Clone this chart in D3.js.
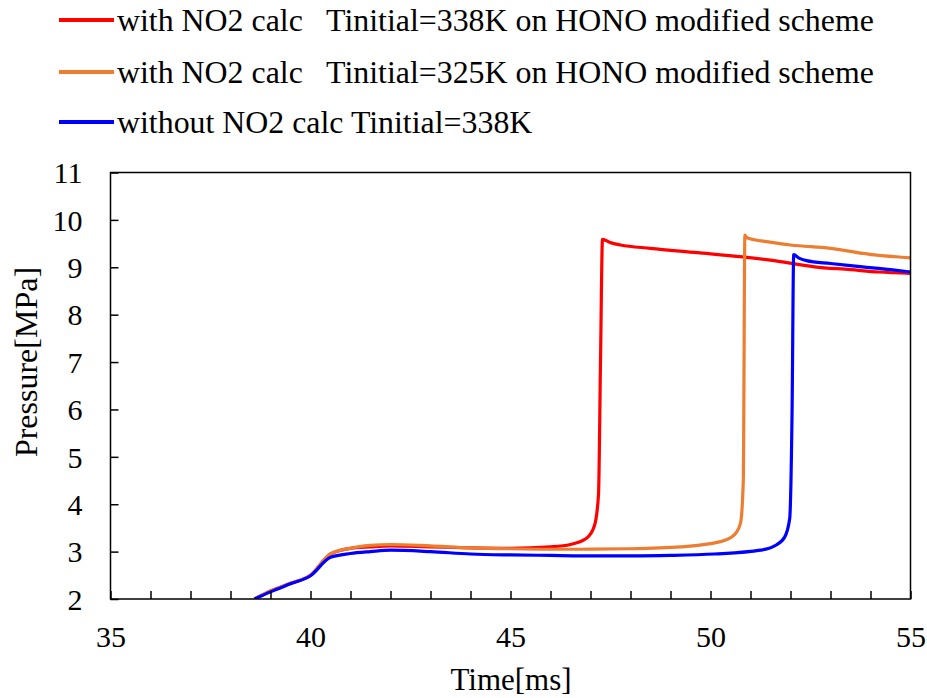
<!DOCTYPE html>
<html><head><meta charset="utf-8">
<script src="https://cdn.jsdelivr.net/npm/d3@7"></script>
<style>body{margin:0;background:#fff}svg{display:block}</style>
</head><body><svg id="c" width="927" height="698"></svg>
<script>
const seriesNames = ["with NO2 calc   Tinitial=338K on HONO modified scheme","with NO2 calc   Tinitial=325K on HONO modified scheme","without NO2 calc Tinitial=338K"];
const seriesColors = ["#ff0000","#ed7d31","#0000ff"];
const redTime = [38.6,39.0,39.5,40.0,40.5,41.0,41.5,42.0,43.0,44.0,45.0,46.0,46.5,46.9,47.1,47.2,47.25,47.3,47.5,47.75,48.5,49.67,50.8,51.5,52.6,53.5,54.2,55];
const redPressure = [2.0,2.17,2.33,2.5,2.95,3.07,3.1,3.12,3.1,3.08,3.07,3.1,3.15,3.28,3.55,4.2,7.0,9.59,9.52,9.47,9.4,9.31,9.22,9.15,9.01,8.95,8.9,8.87];
const orangeTime = [38.6,39,39.5,40,40.5,41,41.5,42,43,44,45,46,46.75,48,49.25,50.25,50.6,50.75,50.82,50.86,50.9,51.1,51.4,52,53,54.1,55];
const orangePressure = [2.0,2.17,2.33,2.5,2.95,3.07,3.13,3.15,3.12,3.08,3.06,3.05,3.05,3.06,3.1,3.21,3.36,3.6,4.5,9.68,9.63,9.58,9.54,9.47,9.40,9.26,9.20];
const blueTime = [38.6,39,39.5,40,40.5,41,41.5,42,43,44,45,46,46.75,48,49,50.1,51.25,51.6,51.85,51.98,52.04,52.08,52.2,52.4,53,53.8,54.5,55];
const bluePressure = [2.0,2.15,2.32,2.49,2.88,2.96,3.0,3.03,3.0,2.95,2.93,2.92,2.91,2.91,2.92,2.95,3.03,3.12,3.3,3.7,6,9.27,9.2,9.14,9.08,9.01,8.95,8.9];
const xTicks = [35,40,45,50,55];
const yTicks = [2,3,4,5,6,7,8,9,10,11];
const xTitle = "Time[ms]", yTitle = "Pressure[MPa]";
const FONT = "Liberation Serif";

const svg = d3.select("#c");
const L=110.5,R=910.5,T=172.5,B=599;
const x = d3.scaleLinear().domain([35,55]).range([L,R]);
const y = d3.scaleLinear().domain([2,11]).range([B,T]);

svg.append("clipPath").attr("id","cp").append("rect").attr("x",L).attr("y",T).attr("width",R-L).attr("height",B-T);

const series = [
  {t:redTime,p:redPressure},
  {t:orangeTime,p:orangePressure},
  {t:blueTime,p:bluePressure}
];
const line = d3.line().x(d=>x(d[0])).y(d=>y(d[1])).curve(d3.curveMonotoneX);
const g = svg.append("g").attr("clip-path","url(#cp)");
series.forEach((s,i)=>{
  const pts = s.t.map((t,j)=>[t,s.p[j]]);
  g.append("path").attr("d",line(pts)).attr("fill","none").attr("stroke",seriesColors[i]).attr("stroke-width",3.2).attr("stroke-linejoin","round");
});

svg.append("rect").attr("x",L).attr("y",T).attr("width",R-L).attr("height",B-T).attr("fill","none").attr("stroke","#000").attr("stroke-width",1.5);
const xa = svg.append("g").attr("transform",`translate(0,${B})`)
  .call(d3.axisBottom(x).tickValues(d3.range(35,56,1)).tickSize(-8).tickFormat(""));
xa.select(".domain").remove();
xa.selectAll("line").attr("stroke","#000").attr("stroke-width",1.5);
const xl = svg.append("g").attr("transform",`translate(0,${B})`)
  .call(d3.axisBottom(x).tickValues(xTicks).tickSize(0).tickFormat(d3.format("d")));
xl.attr("font-family",FONT).attr("font-size",30);
xl.select(".domain").remove();
xl.selectAll("text").attr("font-family",FONT).attr("font-size",30).attr("fill","#000").attr("y",48).attr("dy",null);

const ya = svg.append("g").attr("transform",`translate(${L},0)`)
  .call(d3.axisLeft(y).tickValues(yTicks).tickSize(-8).tickFormat(d3.format("d")));
ya.attr("font-family",FONT).attr("font-size",30);
ya.select(".domain").remove();
ya.selectAll("line").attr("stroke","#000").attr("stroke-width",1.5);
ya.selectAll("text").attr("font-family",FONT).attr("font-size",30).attr("fill","#000").attr("x",-28).attr("dy","0.34em");

svg.append("text").attr("font-family",FONT).attr("x",511).attr("y",690).attr("text-anchor","middle").attr("font-size",31).text(xTitle);
svg.append("text").attr("font-family",FONT).attr("transform",`translate(37,362) rotate(-90)`).attr("text-anchor","middle").attr("font-size",32).text(yTitle);

const legY = [20,72,122];
seriesNames.forEach((n,i)=>{
  svg.append("line").attr("x1",59).attr("x2",114).attr("y1",legY[i]).attr("y2",legY[i]).attr("stroke",seriesColors[i]).attr("stroke-width",4);
  svg.append("text").attr("class","leg").attr("font-family",FONT).attr("x",117).attr("y",legY[i]).attr("dy","0.33em").attr("font-size",32).attr("xml:space","preserve").style("white-space","pre").text(n);
});
// fit legend font size to target span of the first entry
const legs = svg.selectAll("text.leg");
const w0 = legs.nodes()[0].getComputedTextLength();
const fs = 32 * 757 / w0;
legs.attr("font-size", fs);
</script></body></html>
